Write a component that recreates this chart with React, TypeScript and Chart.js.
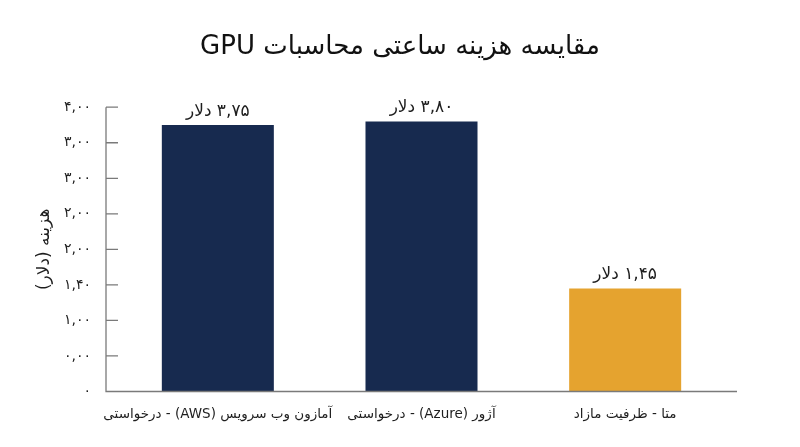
import React, { useRef, useEffect } from 'react';
import { Chart, registerables } from 'chart.js';

Chart.register(...registerables);

const categories = [
  'آمازون وب سرویس (AWS) - درخواستی',
  'آژور (Azure) - درخواستی',
  'متا - ظرفیت مازاد',
];
const hourlyCost = [3.75, 3.8, 1.45];
const barColors = ['#172a4f', '#172a4f', '#e5a32f'];
// tick labels as printed on the original axis
const yTickLabels = ['۰', '۰,۰۰', '۱,۰۰', '۱,۴۰', '۲,۰۰', '۲,۰۰', '۳,۰۰', '۳,۰۰', '۴,۰۰'];

const FONT = '"DejaVu Sans", sans-serif';
const persianDigits = '۰۱۲۳۴۵۶۷۸۹';

const toPersian = (v: number) =>
  v
    .toFixed(2)
    .replace('.', ',')
    .replace(/\d/g, (d) => persianDigits[Number(d)]);

// draws the axis lines a bit outside the plot, ticks pointing inward
const axisLines = {
  id: 'axisLines',
  afterDraw(chart: any) {
    const { ctx, chartArea, scales } = chart;
    const x0 = chartArea.left - 10;
    ctx.save();
    ctx.strokeStyle = '#7a7a7a';
    ctx.lineWidth = 1.3;
    ctx.beginPath();
    ctx.moveTo(x0, chartArea.top);
    ctx.lineTo(x0, chartArea.bottom);
    ctx.lineTo(chartArea.right + 10, chartArea.bottom);
    scales.y.ticks.forEach((_t: any, i: number) => {
      const y = scales.y.getPixelForTick(i);
      ctx.moveTo(x0, y);
      ctx.lineTo(x0 + 12, y);
    });
    ctx.stroke();
    ctx.restore();
  },
};

const valueLabels = {
  id: 'valueLabels',
  afterDatasetsDraw(chart: any) {
    const { ctx } = chart;
    const meta = chart.getDatasetMeta(0);
    ctx.save();
    ctx.font = `17px ${FONT}`;
    ctx.fillStyle = '#1e1e1e';
    ctx.textAlign = 'center';
    ctx.textBaseline = 'bottom';
    meta.data.forEach((bar: any, i: number) => {
      ctx.fillText(`${toPersian(hourlyCost[i])} دلار`, bar.x, bar.y - 5);
    });
    ctx.restore();
  },
};

const CostChart: React.FC = () => {
  const canvasRef = useRef<HTMLCanvasElement | null>(null);

  useEffect(() => {
    if (!canvasRef.current) return;

    const chart = new Chart(canvasRef.current, {
      type: 'bar',
      data: {
        labels: categories,
        datasets: [
          {
            data: hourlyCost,
            backgroundColor: barColors,
            barPercentage: 0.55,
            categoryPercentage: 1,
          },
        ],
      },
      options: {
        animation: false,
        responsive: true,
        maintainAspectRatio: false,
        layout: { padding: 0 },
        scales: {
          x: {
            grid: { display: false },
            border: { display: false },
            ticks: {
              color: '#1e1e1e',
              font: { family: FONT, size: 13.5 },
              padding: 7,
              maxRotation: 0,
              autoSkip: false,
            },
            afterFit: (scale: any) => {
              scale.height = 55.5;
            },
          },
          y: {
            min: 0,
            max: 4,
            grid: { display: false },
            border: { display: false },
            ticks: {
              stepSize: 0.5,
              color: '#1e1e1e',
              font: { family: FONT, size: 14 },
              padding: 17,
              callback: (_v: any, i: number) => yTickLabels[i],
            },
            title: {
              display: true,
              text: 'هزینه (دلار)',
              color: '#1e1e1e',
              font: { family: FONT, size: 17, weight: 'normal' },
              padding: { top: 34, bottom: 0 },
            },
            afterFit: (scale: any) => {
              scale.width = 116;
            },
          },
          // empty right-hand spacer so the title stays centred on the page
          spacer: {
            type: 'linear',
            position: 'right',
            grid: { display: false },
            border: { display: false },
            ticks: { display: false },
            afterFit: (scale: any) => {
              scale.width = 73;
            },
          },
        },
        plugins: {
          legend: { display: false },
          tooltip: { enabled: false },
          title: {
            display: true,
            text: 'مقایسه هزینه ساعتی محاسبات GPU',
            color: '#111',
            font: { family: FONT, size: 26, weight: 'normal' },
            padding: { top: 32, bottom: 44 },
          },
        },
      },
      plugins: [axisLines, valueLabels],
    });

    return () => {
      chart.destroy();
    };
  }, []);

  return <canvas ref={canvasRef} dir="rtl"></canvas>;
};

export default function App() {
  return (
    <div style={{ position: 'fixed', left: 0, top: 0, width: 800, height: 447, background: '#fff' }}>
      <CostChart />
    </div>
  );
}
